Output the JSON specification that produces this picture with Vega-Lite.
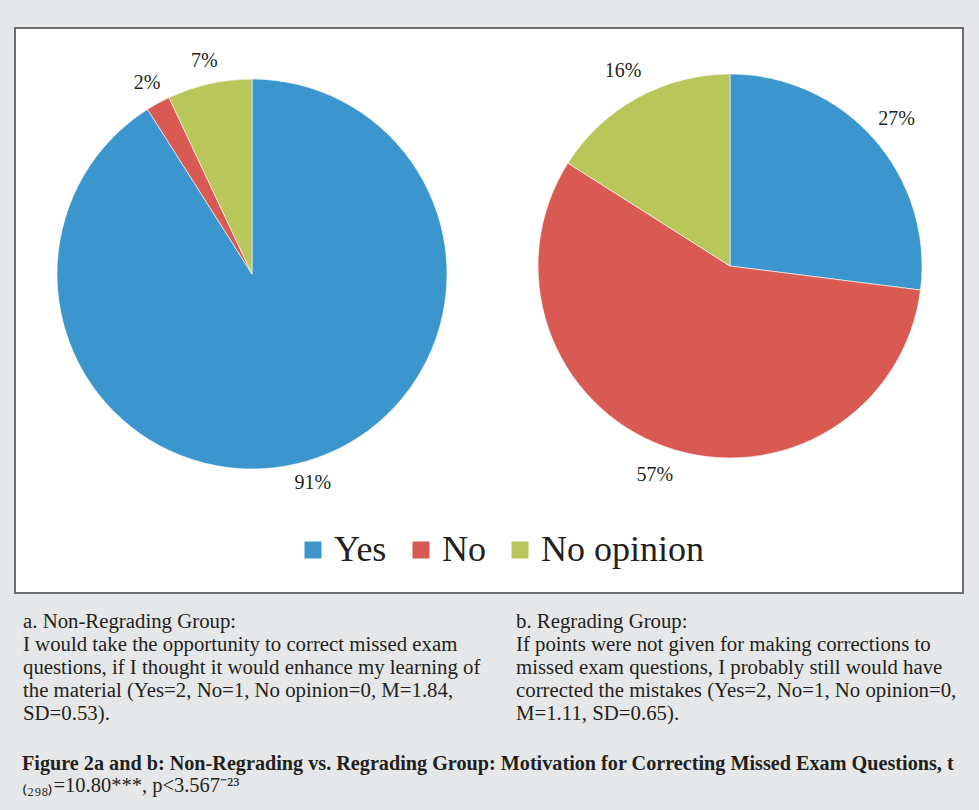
{
  "$schema": "https://vega.github.io/schema/vega-lite/v6.json",
  "background": "#e6e7e8",
  "padding": {"left": 14, "top": 27, "right": 17, "bottom": 24},
  "config": {
    "view": {"stroke": null},
    "font": "Liberation Serif",
    "legend": {
      "orient": "none",
      "legendX": 280,
      "legendY": 504,
      "direction": "horizontal",
      "symbolType": "square",
      "symbolSize": 289,
      "symbolStrokeWidth": 0,
      "symbolOpacity": 1,
      "labelFont": "Liberation Serif",
      "labelFontSize": 36,
      "labelColor": "#231f20",
      "labelOffset": 3,
      "columnPadding": 16,
      "padding": 0,
      "labelLimit": 400
    }
  },
  "title": {
    "text": "Figure 2a and b: Non-Regrading vs. Regrading Group: Motivation for Correcting Missed Exam Questions, t",
    "subtitle": "₍₂₉₈₎=10.80***, p<3.567⁻²³",
    "orient": "bottom",
    "anchor": "start",
    "dx": 8,
    "offset": 18,
    "font": "Liberation Serif",
    "fontSize": 20.2,
    "fontWeight": "bold",
    "color": "#231f20",
    "subtitleFont": "Liberation Serif",
    "subtitleFontSize": 20.5,
    "subtitleColor": "#231f20",
    "subtitlePadding": 2
  },
  "datasets": {
    "pies": [
      {"group": "a", "answer": "Yes", "share": 0.91, "order": 1},
      {"group": "a", "answer": "No", "share": 0.02, "order": 2},
      {"group": "a", "answer": "No opinion", "share": 0.07, "order": 3},
      {"group": "b", "answer": "Yes", "share": 0.27, "order": 1},
      {"group": "b", "answer": "No", "share": 0.57, "order": 2},
      {"group": "b", "answer": "No opinion", "share": 0.16, "order": 3}
    ]
  },
  "spacing": 16,
  "vconcat": [
    {
      "width": 948,
      "height": 565,
      "view": {"fill": "white", "stroke": "#6d6e71", "strokeWidth": 2},
      "data": {"name": "pies"},
      "encoding": {
        "x": {"field": "group", "type": "nominal", "scale": {"type": "point", "domain": ["a", "b"], "range": [237, 715], "padding": 0}, "axis": null},
        "y": {"field": "group", "type": "nominal", "scale": {"type": "point", "domain": ["a", "b"], "range": [246, 238], "padding": 0}, "axis": null},
        "theta": {"field": "share", "type": "quantitative", "stack": true, "scale": {"domain": [0, 1]}},
        "order": {"field": "order", "type": "quantitative"}
      },
      "layer": [
        {
          "transform": [{"filter": "datum.group === 'a'"}],
          "mark": {"type": "arc", "outerRadius": 195, "stroke": "white", "strokeWidth": 0.6},
          "encoding": {
            "color": {"field": "answer", "type": "nominal", "title": null,
              "scale": {"domain": ["Yes", "No", "No opinion"], "range": ["#3a96cc", "#d95a52", "#b8c65a"]}}
          }
        },
        {
          "transform": [{"filter": "datum.group === 'a'"}],
          "mark": {"type": "text", "radius": 218, "fontSize": 20, "font": "Liberation Serif", "color": "#231f20"},
          "encoding": {
            "detail": {"field": "answer", "type": "nominal"},
            "text": {"field": "share", "type": "quantitative", "format": ".0%"}
          }
        },
        {
          "transform": [{"filter": "datum.group === 'b'"}],
          "mark": {"type": "arc", "outerRadius": 192, "stroke": "white", "strokeWidth": 0.6},
          "encoding": {
            "color": {"field": "answer", "type": "nominal", "title": null,
              "scale": {"domain": ["Yes", "No", "No opinion"], "range": ["#3a96cc", "#d95a52", "#b8c65a"]}}
          }
        },
        {
          "transform": [{"filter": "datum.group === 'b'"}],
          "mark": {"type": "text", "radius": 222, "fontSize": 20, "font": "Liberation Serif", "color": "#231f20"},
          "encoding": {
            "detail": {"field": "answer", "type": "nominal"},
            "text": {"field": "share", "type": "quantitative", "format": ".0%"}
          }
        }
      ]
    },
    {
      "spacing": 23,
      "hconcat": [
        {
          "width": 470,
          "height": 1,
          "data": {"values": [{}]},
          "mark": {"type": "text", "text": ""},
          "title": {
            "text": ["a. Non-Regrading Group:", "I would take the opportunity to correct missed exam", "questions, if I thought it would enhance my learning of", "the material (Yes=2, No=1, No opinion=0, M=1.84,", "SD=0.53)."],
            "anchor": "start", "dx": 8, "offset": 0,
            "font": "Liberation Serif", "fontSize": 20.8, "fontWeight": "normal", "lineHeight": 23, "color": "#231f20"
          }
        },
        {
          "width": 440,
          "height": 1,
          "data": {"values": [{}]},
          "mark": {"type": "text", "text": ""},
          "title": {
            "text": ["b. Regrading Group:", "If points were not given for making corrections to", "missed exam questions, I probably still would have", "corrected the mistakes (Yes=2, No=1, No opinion=0,", "M=1.11, SD=0.65)."],
            "anchor": "start", "dx": 8, "offset": 0,
            "font": "Liberation Serif", "fontSize": 20.8, "fontWeight": "normal", "lineHeight": 23, "color": "#231f20"
          }
        }
      ]
    }
  ]
}
